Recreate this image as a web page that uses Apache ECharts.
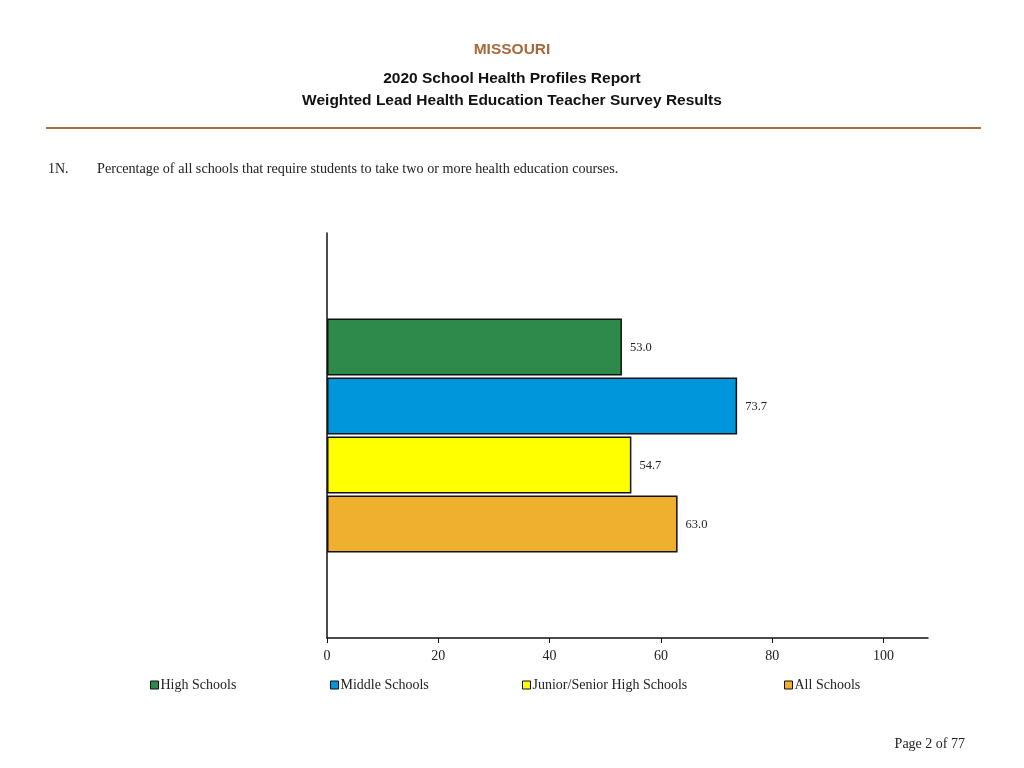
<!DOCTYPE html>
<html>
<head>
<meta charset="utf-8">
<script src="https://cdn.jsdelivr.net/npm/echarts@6/dist/echarts.min.js"></script>
<style>html,body{margin:0;padding:0;background:#fff;}#c{width:1024px;height:768px;}</style>
</head>
<body>
<div id="c"></div>
<script>
const categories = ['1N'];
const seriesNames = ['High Schools', 'Middle Schools', 'Junior/Senior High Schools', 'All Schools'];
const seriesValues = [53.0, 73.7, 54.7, 63.0];
const seriesColors = ['#2E8A4A', '#0096DC', '#FFFF00', '#EFB030'];
const tickLabels = [0, 20, 40, 60, 80, 100];
const legendLeft = [150, 330, 522, 784];

const serif = '"Liberation Serif", "DejaVu Serif", serif';
const sans = '"Liberation Sans", Arial, sans-serif';

const chart = echarts.init(document.getElementById('c'));
const series = seriesNames.map((name, i) => ({
  name: name,
  type: 'bar',
  data: [seriesValues[i]],
  barWidth: 57,
  barGap: '3.5%',
  itemStyle: { color: seriesColors[i], borderColor: '#111', borderWidth: 1.5 },
  label: {
    show: true, position: 'right', distance: 8, offset: [0, 1],
    formatter: p => p.value.toFixed(1),
    fontFamily: serif, fontSize: 12.5, color: '#222'
  },
  animation: false
}));

const legends = seriesNames.map((name, i) => ({
  data: [name],
  left: legendLeft[i],
  top: 678,
  padding: 0,
  icon: 'rect',
  itemWidth: 8,
  itemHeight: 8,
  itemStyle: { borderColor: '#111', borderWidth: 1 },
  textStyle: { fontFamily: serif, fontSize: 14, color: '#222', padding: [0, 0, 0, -3] },
  selectedMode: false
}));

chart.setOption({
  animation: false,
  backgroundColor: '#fff',
  grid: { left: 327, right: 96, top: 233, bottom: 130 },
  legend: legends,
  xAxis: {
    type: 'value', min: 0, max: 108, interval: 20,
    axisLine: { show: true, lineStyle: { color: '#111', width: 1.5 } },
    axisTick: { show: true, length: 5, lineStyle: { color: '#111' }, customValues: tickLabels },
    axisLabel: { fontFamily: serif, fontSize: 14, color: '#222', margin: 11, customValues: tickLabels },
    splitLine: { show: false }
  },
  yAxis: {
    type: 'category', data: categories,
    axisLine: { show: true, lineStyle: { color: '#111', width: 1.5 } },
    axisTick: { show: false },
    axisLabel: { show: false }
  },
  series: series,
  graphic: [
    { type: 'text', left: 'center', top: 42, style: { text: 'MISSOURI', fontFamily: sans, fontWeight: 'bold', fontSize: 15.5, fill: '#A8683A' } },
    { type: 'text', left: 'center', top: 71, style: { text: '2020 School Health Profiles Report', fontFamily: sans, fontWeight: 'bold', fontSize: 15.5, fill: '#111' } },
    { type: 'text', left: 'center', top: 93, style: { text: 'Weighted Lead Health Education Teacher Survey Results', fontFamily: sans, fontWeight: 'bold', fontSize: 15.5, fill: '#111' } },
    { type: 'line', shape: { x1: 46, y1: 128, x2: 981, y2: 128 }, style: { stroke: '#A8703F', lineWidth: 2 } },
    { type: 'text', left: 48, top: 162, style: { text: '1N.', fontFamily: serif, fontSize: 14, fill: '#222' } },
    { type: 'text', left: 97, top: 162, style: { text: 'Percentage of all schools that require students to take two or more health education courses.', fontFamily: serif, fontSize: 14.2, fill: '#222' } },
    { type: 'text', right: 59, top: 737, style: { text: 'Page 2 of 77', fontFamily: serif, fontSize: 14, fill: '#222' } }
  ]
});
</script>
</body>
</html>
